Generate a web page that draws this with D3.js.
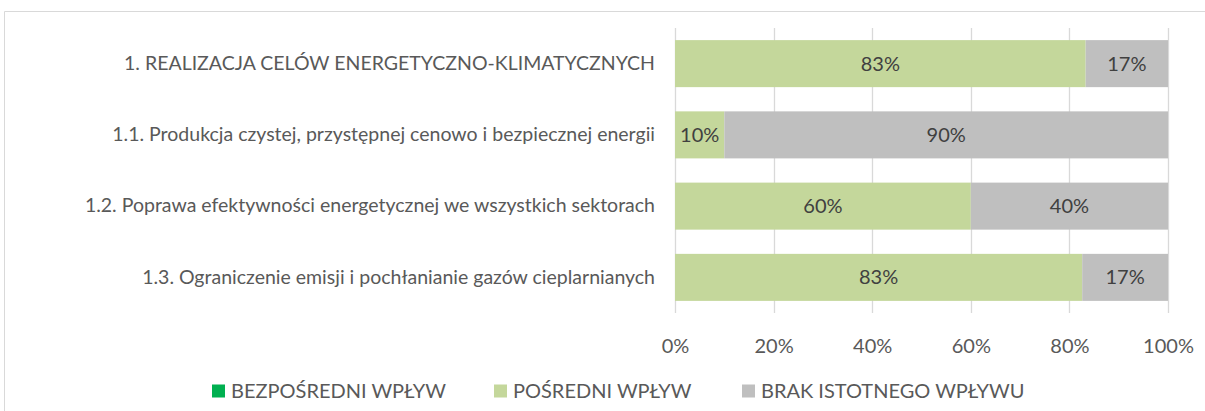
<!DOCTYPE html>
<html>
<head>
<meta charset="utf-8">
<script src="https://cdn.jsdelivr.net/npm/d3@7"></script>
<style>
    body { margin: 0; background: #fff; }
    svg { font-family: Lato, "Open Sans", sans-serif; }
</style>
</head>
<body>
<svg width="1205" height="411"></svg>
<script>
// data (percent)
var categories = [
    '1. REALIZACJA CELÓW ENERGETYCZNO-KLIMATYCZNYCH',
    '1.1. Produkcja czystej, przystępnej cenowo i bezpiecznej energii',
    '1.2. Poprawa efektywności energetycznej we wszystkich sektorach',
    '1.3. Ograniczenie emisji i pochłanianie gazów cieplarnianych'
];
var seriesNames = ['BEZPOŚREDNI WPŁYW', 'POŚREDNI WPŁYW', 'BRAK ISTOTNEGO WPŁYWU'];
var bezposredni = [0, 0, 0, 0];
var posredni = [83.3, 10, 60, 82.6];
var brak = [16.7, 90, 40, 17.4];
var tickValues = [0, 20, 40, 60, 80, 100];

var colors = ['#00B050', '#C4D79B', '#BFBFBF'];

var svg = d3.select('svg');

// outer chart frame (right and bottom edges run off the picture)
svg.append('path')
    .attr('d', 'M4.5,420 V11.5 H1220')
    .style('fill', 'none')
    .style('stroke', '#D9D9D9')
    .style('stroke-width', 1);

var x = d3.scaleLinear().domain([0, 100]).range([675, 1168]);
var y = d3.scaleBand().domain(categories).range([28, 313]).paddingInner(0.34).paddingOuter(0.17);

// gridlines
svg.append('g')
    .selectAll('line')
    .data(tickValues)
    .enter()
    .append('line')
    .attr('x1', function (d) { return Math.round(x(d)) + 0.5; })
    .attr('x2', function (d) { return Math.round(x(d)) + 0.5; })
    .attr('y1', 28)
    .attr('y2', 313)
    .style('stroke', '#D9D9D9')
    .style('stroke-width', 1.3);

// stacked rows
var rows = categories.map(function (c, i) {
    return {cat: c, b: bezposredni[i], p: posredni[i], n: brak[i]};
});
var stack = d3.stack().keys(['b', 'p', 'n'])(rows);

var layers = svg.append('g')
    .selectAll('g')
    .data(stack)
    .enter()
    .append('g')
    .style('fill', function (d, i) { return colors[i]; });

layers.selectAll('rect')
    .data(function (d) { return d; })
    .enter()
    .append('rect')
    .attr('x', function (d) { return x(d[0]); })
    .attr('width', function (d) { return x(d[1]) - x(d[0]); })
    .attr('y', function (d) { return y(d.data.cat); })
    .attr('height', y.bandwidth());

// value labels inside the segments
layers.selectAll('text')
    .data(function (d) { return d.filter(function (s) { return s[1] - s[0] > 0; }); })
    .enter()
    .append('text')
    .attr('x', function (d) { return (x(d[0]) + x(d[1])) / 2; })
    .attr('y', function (d) { return y(d.data.cat) + y.bandwidth() / 2; })
    .attr('dy', '0.35em')
    .style('text-anchor', 'middle')
    .style('font-size', '20px')
    .style('fill', '#404040')
    .text(function (d) { return Math.round(d[1] - d[0]) + '%'; });

// category axis
var yAxis = svg.append('g')
    .attr('transform', 'translate(675,0)')
    .call(d3.axisLeft(y).tickSize(0).tickPadding(20));
yAxis.select('.domain').remove();
yAxis.selectAll('text')
    .style('font-size', '19.5px')
    .style('font-family', 'Lato, "Open Sans", sans-serif')
    .style('fill', '#595959');

// value axis
var xAxis = svg.append('g')
    .attr('transform', 'translate(0,313)')
    .call(d3.axisBottom(x).tickValues(tickValues).tickSize(0).tickPadding(26)
        .tickFormat(function (d) { return d + '%'; }));
xAxis.select('.domain').remove();
xAxis.selectAll('text')
    .style('font-size', '20px')
    .style('font-family', 'Lato, "Open Sans", sans-serif')
    .style('fill', '#595959');

// legend
var legendX = [212, 494, 742];
var legend = svg.append('g')
    .selectAll('g')
    .data(seriesNames)
    .enter()
    .append('g')
    .attr('transform', function (d, i) { return 'translate(' + legendX[i] + ',391)'; });
legend.append('rect')
    .attr('x', 0)
    .attr('y', -6.5)
    .attr('width', 13)
    .attr('height', 13)
    .style('fill', function (d, i) { return colors[i]; });
legend.append('text')
    .attr('x', 19)
    .attr('dy', '0.35em')
    .style('font-size', '20px')
    .style('fill', '#595959')
    .text(function (d) { return d; });
</script>
</body>
</html>
